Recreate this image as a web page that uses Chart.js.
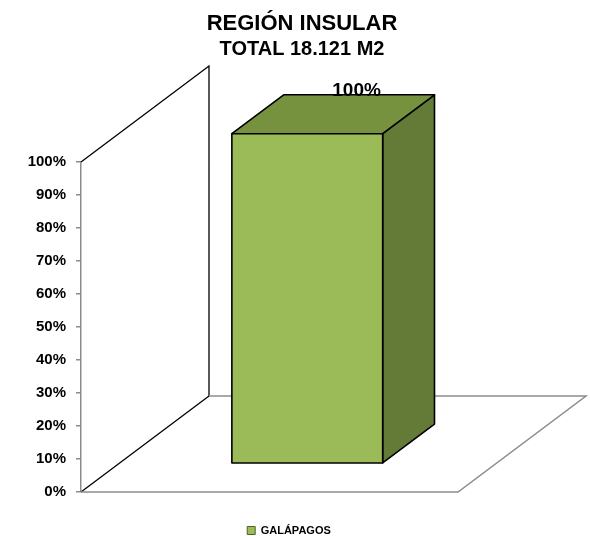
<!DOCTYPE html>
<html>
<head>
<meta charset="utf-8">
<script src="https://cdn.jsdelivr.net/npm/chart.js@4"></script>
<style>
  html, body { margin: 0; padding: 0; background: #fff; }
</style>
</head>
<body>
<canvas id="chart" width="590" height="536"></canvas>
<script>
// data
const categories = ['GALÁPAGOS'];
const shares = [1.0];           // share of the 18.121 m2 total
const titleText = 'REGIÓN INSULAR';
const subtitleText = 'TOTAL 18.121 M2';

// fake 3D: how far the back of the box sits from the front plane
const DX = 128, DY = -96;
const BAR_FRONT = 0.295, BAR_BACK = 0.70;

const pct = v => Math.round(v * 100) + '%';

const box3d = {
  id: 'box3d',
  afterLayout(chart) {
    // nudge the legend to where excel put it
    const lg = chart.legend;
    if (lg) {
      lg.left -= 13; lg.right -= 13;
      lg.top += 10; lg.bottom += 10;
    }
  },
  beforeDatasetsDraw(chart) {
    const { ctx, chartArea: a } = chart;
    ctx.save();
    // side wall outline
    ctx.strokeStyle = '#000';
    ctx.lineWidth = 1.3;
    ctx.beginPath();
    ctx.moveTo(a.left, a.top);
    ctx.lineTo(a.left + DX, a.top + DY);
    ctx.lineTo(a.left + DX, a.bottom + DY);
    ctx.moveTo(a.left, a.bottom);
    ctx.lineTo(a.left + DX, a.bottom + DY);
    ctx.stroke();
    // floor
    ctx.strokeStyle = '#8c8c8c';
    ctx.lineWidth = 1.5;
    ctx.beginPath();
    ctx.moveTo(a.left + DX, a.bottom + DY);
    ctx.lineTo(a.right + DX, a.bottom + DY);
    ctx.lineTo(a.right, a.bottom);
    ctx.lineTo(a.left, a.bottom);
    ctx.stroke();
    ctx.restore();
  },
  beforeDatasetDraw() {
    return false; // flat bar is replaced by the box below
  },
  afterDatasetsDraw(chart) {
    const { ctx } = chart;
    const fx = DX * BAR_FRONT, fy = DY * BAR_FRONT;
    const bx = DX * BAR_BACK, by = DY * BAR_BACK;
    chart.getDatasetMeta(0).data.forEach((el, i) => {
      const { x, y, base, width } = el.getProps(['x', 'y', 'base', 'width'], true);
      const L = x - width / 2, R = x + width / 2;
      ctx.save();
      ctx.strokeStyle = '#000';
      ctx.lineWidth = 1.6;
      ctx.lineJoin = 'round';
      // side
      ctx.beginPath();
      ctx.moveTo(R + fx, y + fy);
      ctx.lineTo(R + bx, y + by);
      ctx.lineTo(R + bx, base + by);
      ctx.lineTo(R + fx, base + fy);
      ctx.closePath();
      ctx.fillStyle = '#647a37';
      ctx.fill();
      ctx.stroke();
      // top
      ctx.beginPath();
      ctx.moveTo(L + fx, y + fy);
      ctx.lineTo(L + bx, y + by);
      ctx.lineTo(R + bx, y + by);
      ctx.lineTo(R + fx, y + fy);
      ctx.closePath();
      ctx.fillStyle = '#77923f';
      ctx.fill();
      ctx.stroke();
      // front
      ctx.beginPath();
      ctx.rect(L + fx, y + fy, width, base - y);
      ctx.fillStyle = '#9bbb59';
      ctx.fill();
      ctx.stroke();
      // value label
      ctx.fillStyle = '#000';
      ctx.font = 'bold 19px "Liberation Sans", Arial, sans-serif';
      ctx.textAlign = 'center';
      ctx.textBaseline = 'alphabetic';
      ctx.fillText(pct(shares[i]), x + DX * 0.68, y + by + 1.5);
      ctx.restore();
    });
  }
};

Chart.defaults.font.family = '"Liberation Sans", Arial, sans-serif';
Chart.defaults.color = '#000';

new Chart(document.getElementById('chart'), {
  type: 'bar',
  data: {
    labels: categories,
    datasets: [{
      label: categories[0],
      data: shares,
      backgroundColor: '#9bbb59',
      borderColor: '#4f6228',
      borderWidth: 1,
      categoryPercentage: 1,
      barPercentage: 0.4,
      yAxisID: 'y'
    }]
  },
  options: {
    responsive: false,
    animation: false,
    layout: { padding: { left: 14, right: 0, top: 0, bottom: 0 } },
    plugins: {
      title: {
        display: true,
        text: titleText,
        font: { size: 22, weight: 'bold' },
        padding: { top: 10.8, bottom: 0 }
      },
      subtitle: {
        display: true,
        text: subtitleText,
        color: '#000',
        font: { size: 20, weight: 'bold' },
        padding: { top: 0, bottom: 100.8 }
      },
      legend: {
        position: 'bottom',
        labels: {
          boxWidth: 8,
          boxHeight: 8,
          padding: 1,
          font: { size: 11, weight: 'bold' }
        }
      },
      tooltip: { enabled: false }
    },
    scales: {
      x: {
        ticks: { display: false },
        grid: { display: false },
        border: { display: false },
        afterFit: s => { s.height = 22; }
      },
      y: {
        min: 0,
        max: 1,
        ticks: {
          stepSize: 0.1,
          padding: 10,
          font: { size: 15, weight: 'bold' },
          callback: v => pct(v)
        },
        grid: { drawOnChartArea: false, tickLength: 5, color: '#8c8c8c', lineWidth: 1.5 },
        border: { color: '#8c8c8c', width: 1.5 },
        afterFit: s => { s.width = 67; }
      },
      // empty room on the right for the receding floor
      room: {
        type: 'linear',
        position: 'right',
        ticks: { display: false },
        grid: { display: false },
        border: { display: false },
        afterFit: s => { s.width = 132; }
      }
    }
  },
  plugins: [box3d]
});
</script>
</body>
</html>
